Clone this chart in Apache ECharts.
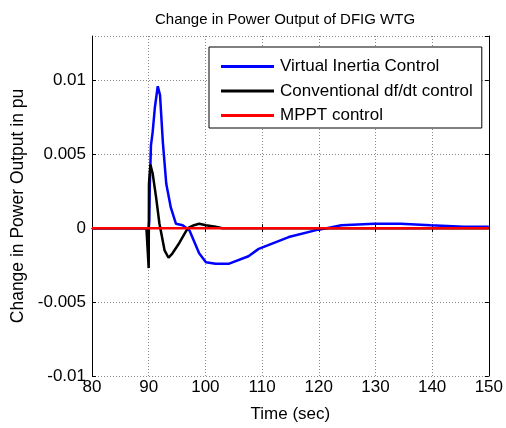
<!DOCTYPE html>
<html><head><meta charset="utf-8">
<script src="https://cdn.jsdelivr.net/npm/echarts@6/dist/echarts.min.js"></script>
<style>html,body{margin:0;padding:0;background:#fff}#c{width:506px;height:428px}</style>
</head><body><div id="c"></div>
<script>
var xTicks = [80, 90, 100, 110, 120, 130, 140, 150];
var yTicks = [-0.01, -0.005, 0, 0.005, 0.01];

var viTime = [80, 90, 90.1, 90.2, 90.4, 90.7, 91.1, 91.6, 92.0, 92.5, 93.1, 93.9, 94.8, 96.0, 97.2, 98.9, 100.1, 101.8, 104.2, 107.6, 109.4, 114.7, 119.9, 121.4, 124, 129.8, 134.4, 139.7, 145.6, 150];
var viVal  = [0, 0, 0.0005, 0.0029, 0.0056, 0.0065, 0.0082, 0.0096, 0.0090, 0.0058, 0.0030, 0.0014, 0.0003, 0.0002, -0.00015, -0.0017, -0.0023, -0.0024, -0.0024, -0.0019, -0.0014, -0.0006, -0.0001, 0, 0.0002, 0.0003, 0.0003, 0.0002, 0.0001, 0.0001];

var ddTime = [80, 89.6, 90.0, 90.05, 90.3, 90.7, 91.3, 91.9, 92.8, 93.5, 94.2, 95.4, 96.9, 98.0, 98.9, 100.1, 101.8, 103, 150];
var ddVal  = [0, 0, -0.0027, 0.003, 0.0043, 0.0037, 0.0021, 0.0003, -0.0015, -0.002, -0.0017, -0.001, 0, 0.0002, 0.0003, 0.0002, 0.0001, 0, 0];

var mpTime = [80, 150];
var mpVal  = [0, 0];

function pairs(t, v){ return t.map(function(x, i){ return [x, v[i]]; }); }

var font = 'Liberation Sans, Arial, sans-serif';
var chart = echarts.init(document.getElementById('c'));
var axisLine = {show: true, lineStyle: {color: '#000', width: 1}};
var tick = {show: true, inside: true, length: 4, lineStyle: {color: '#000'}};
chart.setOption({
  animation: false,
  title: {text: 'Change in Power Output of DFIG WTG', left: 280, top: 7, textAlign: 'center',
    textStyle: {fontFamily: font, fontSize: 15, fontWeight: 'normal', color: '#000'}},
  grid: {left: 92, right: 14, top: 36, bottom: 47},
  legend: {
    orient: 'vertical', left: 209, top: 47,
    icon: 'rect', itemWidth: 53, itemHeight: 3, itemGap: 7.5,
    padding: [11, 9, 4, 12],
    borderColor: '#000', borderWidth: 1, backgroundColor: '#fff',
    textStyle: {fontFamily: font, fontSize: 17, lineHeight: 17, color: '#000', padding: [0, 0, 0, 1]},
    data: ['Virtual Inertia Control', 'Conventional df/dt control', 'MPPT control']
  },
  xAxis: [{
    type: 'value', min: xTicks[0], max: xTicks[xTicks.length - 1], interval: 10,
    name: 'Time (sec)', nameLocation: 'middle', nameGap: 30,
    nameTextStyle: {fontFamily: font, fontSize: 17, color: '#000'},
    axisLine: axisLine, axisTick: tick,
    axisLabel: {fontFamily: font, fontSize: 17, color: '#000', margin: 3},
    splitLine: {show: true, lineStyle: {color: '#888', type: [1, 2], width: 1}}
  }, {
    type: 'value', position: 'top', min: 80, max: 150, interval: 10,
    axisLine: axisLine, axisTick: tick, axisLabel: {show: false}, splitLine: {show: false}
  }],
  yAxis: [{
    type: 'value', min: yTicks[0], max: 0.013, interval: 0.005,
    name: 'Change in Power Output in pu', nameLocation: 'middle', nameGap: 60,
    nameTextStyle: {fontFamily: font, fontSize: 17.5, color: '#000'},
    axisLine: axisLine, axisTick: tick,
    axisLabel: {fontFamily: font, fontSize: 17, color: '#000', margin: 6, showMaxLabel: false,
      formatter: function(v){ var r = Math.round(v * 1000) / 1000; return yTicks.indexOf(r) >= 0 ? String(r) : ''; }},
    splitLine: {show: true, lineStyle: {color: '#888', type: [1, 2], width: 1}}
  }, {
    type: 'value', position: 'right', min: -0.01, max: 0.013, interval: 0.005,
    axisLine: axisLine, axisTick: tick, axisLabel: {show: false}, splitLine: {show: false}
  }],
  series: [
    {name: 'Virtual Inertia Control', type: 'line', data: pairs(viTime, viVal), symbol: 'none',
      lineStyle: {color: '#0000ff', width: 2.5}, itemStyle: {color: '#0000ff'}},
    {name: 'Conventional df/dt control', type: 'line', data: pairs(ddTime, ddVal), symbol: 'none',
      lineStyle: {color: '#000', width: 2.5}, itemStyle: {color: '#000'}},
    {name: 'MPPT control', type: 'line', data: pairs(mpTime, mpVal), symbol: 'none',
      lineStyle: {color: '#ff0000', width: 2.5}, itemStyle: {color: '#ff0000'}}
  ]
});
</script></body></html>
